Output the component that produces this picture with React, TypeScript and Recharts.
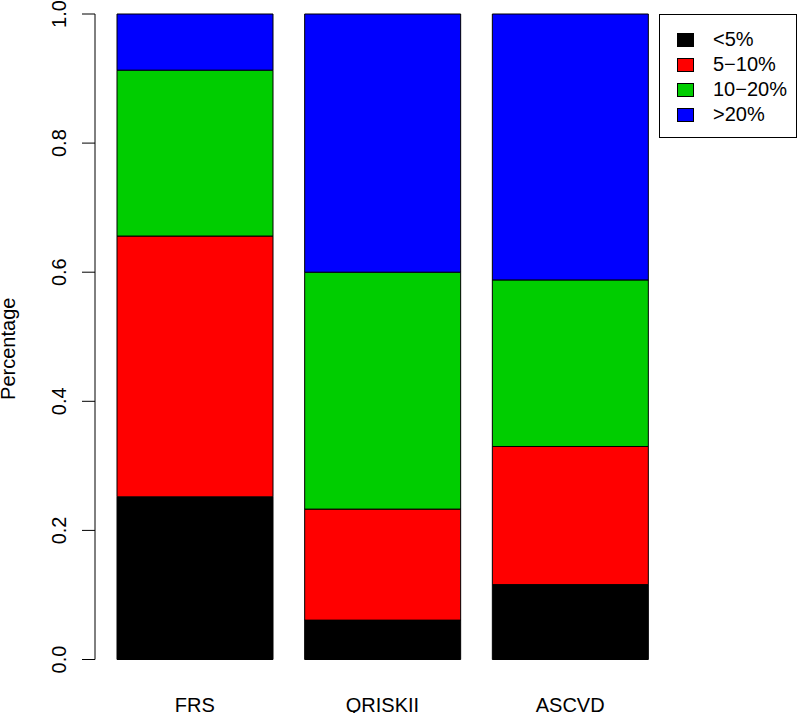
import { BarChart, Bar, XAxis, YAxis } from 'recharts'

const models = ['FRS', 'QRISKII', 'ASCVD']
const under5 = [0.252, 0.061, 0.116]
const from5to10 = [0.404, 0.172, 0.214]
const from10to20 = [0.257, 0.367, 0.258]
const over20 = [0.087, 0.4, 0.412]
const yTicks = [0, 0.2, 0.4, 0.6, 0.8, 1.0]

const series = [
  { key: 'under5', name: '<5%', color: '#000000' },
  { key: 'from5to10', name: '5\u221210%', color: '#FF0000' },
  { key: 'from10to20', name: '10\u221220%', color: '#00CD00' },
  { key: 'over20', name: '>20%', color: '#0000FF' },
]

const data = models.map((m, i) => ({
  model: m,
  under5: under5[i],
  from5to10: from5to10[i],
  from10to20: from10to20[i],
  over20: over20[i],
}))

const FONT = '"Liberation Sans", Arial, Helvetica, sans-serif'

const YTick = ({ x, y, payload }: any) => (
  <text
    x={x - 14}
    y={y}
    transform={`rotate(-90, ${x - 14}, ${y})`}
    textAnchor="middle"
    fontSize={20}
    fontFamily={FONT}
    fill="#000"
  >
    {payload.value.toFixed(1)}
  </text>
)

const XTick = ({ x, y, payload }: any) => (
  <text x={x} y={y + 44} textAnchor="middle" fontSize={20} fontFamily={FONT} fill="#000">
    {payload.value}
  </text>
)

// legend drawn over the chart, like R's legend("topright") inside the plot
const LegendBox = () => (
  <div
    style={{
      position: 'absolute',
      left: 659,
      top: 14,
      width: 138,
      height: 124,
      boxSizing: 'border-box',
      border: '1px solid #000',
      background: '#fff',
      paddingTop: 12,
      fontFamily: FONT,
      fontSize: 20,
    }}
  >
    {series.map((s) => (
      <div key={s.key} style={{ height: 25, display: 'flex', alignItems: 'center' }}>
        <span
          style={{
            display: 'inline-block',
            width: 15,
            height: 12,
            marginLeft: 17,
            marginRight: 19,
            background: s.color,
            border: '1px solid #000',
          }}
        />
        <span style={{ lineHeight: '25px' }}>{s.name}</span>
      </div>
    ))}
  </div>
)

export default function App() {
  return (
    <div style={{ position: 'absolute', left: 0, top: 0, width: 800, height: 713, background: '#fff' }}>
      <BarChart
        width={800}
        height={713}
        data={data}
        margin={{ top: 14, right: 136, left: 0, bottom: 0 }}
        barSize={156}
      >
        <XAxis
          dataKey="model"
          axisLine={false}
          tickLine={false}
          height={53.5}
          padding={{ left: 6, right: 0 }}
          tick={<XTick />}
        />
        <YAxis
          domain={[0, 1]}
          ticks={yTicks}
          width={95}
          axisLine={{ stroke: '#000', strokeWidth: 1 }}
          tickLine={{ stroke: '#000', strokeWidth: 1 }}
          tickSize={13}
          tick={<YTick />}
          interval={0}
          label={{
            value: 'Percentage',
            content: ({ viewBox }: any) => {
              const cy = viewBox.y + viewBox.height / 2 + 12
              return (
                <text
                  x={15}
                  y={cy}
                  transform={`rotate(-90, 15, ${cy})`}
                  textAnchor="middle"
                  fontSize={20}
                  fontFamily={FONT}
                  fill="#000"
                >
                  Percentage
                </text>
              )
            },
          }}
        />
        {series.map((s) => (
          <Bar
            key={s.key}
            dataKey={s.key}
            name={s.name}
            stackId="risk"
            fill={s.color}
            stroke="#000"
            strokeWidth={1}
            isAnimationActive={false}
          />
        ))}
      </BarChart>
      <LegendBox />
    </div>
  )
}
